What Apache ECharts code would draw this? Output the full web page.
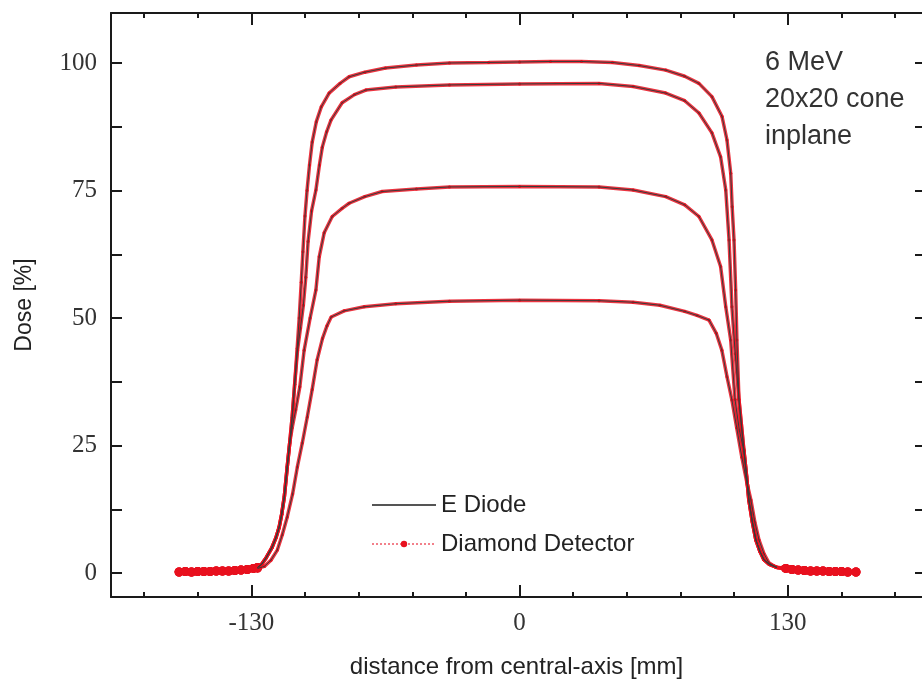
<!DOCTYPE html>
<html>
<head>
<meta charset="utf-8">
<script src="https://cdn.jsdelivr.net/npm/echarts@6/dist/echarts.min.js"></script>
<style>
  html, body { margin: 0; padding: 0; background: #fff; }
  #chart { width: 922px; height: 695px; }
</style>
</head>
<body>
<div id="chart"></div>
<script>
// tick positions
const xMajor = [-130, 0, 130];
const xMinor = [-182, -156, -104, -78, -52, -26, 26, 52, 78, 104, 156, 182];
const yMajor = [0, 25, 50, 75, 100];
const yMinor = [12.5, 37.5, 62.5, 87.5];

// flat low-dose tails (only diamond shows them)
const leftTail = [[-165,0.2],[-162,0.3],[-159,0.2],[-156,0.3],[-153,0.3],[-150,0.3],[-147,0.4],[-144,0.4],[-141,0.4],[-138,0.5],[-135,0.6],[-132,0.7],[-129,0.9]];
const rightTail = [[129,0.9],[132,0.7],[135,0.6],[138,0.5],[141,0.4],[144,0.4],[147,0.4],[150,0.3],[153,0.3],[156,0.3],[159,0.2],[163,0.2]];

// the four profiles, [distance mm, dose %]
const profile100 = [[-127,1.1],[-125,1.7],[-122.8,3],[-120,5],[-118,7],[-116.5,9],[-115.3,11.5],[-114,15],[-112.6,20.8],[-111.4,25.5],[-110.2,30.6],[-109,37],[-107.8,44],[-106.8,50],[-105.8,57],[-105,63],[-104,70],[-103,75],[-101.8,80],[-100.5,84.5],[-98.5,88.5],[-96.1,91.4],[-92.3,94.1],[-87,96],[-82.6,97.3],[-75,98.2],[-65,99],[-50,99.6],[-34,100],[-15,100.1],[0,100.2],[15,100.3],[30,100.3],[45,100.1],[58,99.5],[70.8,98.6],[80,97.4],[86.9,96],[93.2,93.4],[98.1,89.5],[100.5,84.9],[102.3,78.4],[103,71.8],[103.9,65.3],[104.7,55.5],[105.3,45.7],[106.3,34],[107.5,29],[108.7,24],[110,19],[111.1,14.3],[112.8,10],[114.5,6.5],[116.5,4.2],[118.4,2.6],[121,1.7],[124.7,1.1]];
const profile96 = [[-127,1.1],[-125,1.7],[-122.8,3],[-120,5],[-118,7],[-116.5,9],[-115.3,11.5],[-114,15],[-112.6,20.8],[-111.4,25.5],[-110.2,30.6],[-109,37],[-107.6,43.7],[-106.2,48],[-104.8,52.5],[-103.6,58],[-102.5,65],[-100.8,71],[-98.7,75.1],[-97,80],[-95.6,83.5],[-93.5,86.5],[-91.4,88.8],[-86,92.2],[-80,93.8],[-74.5,94.7],[-60,95.3],[-34,95.7],[0,95.9],[38.5,96],[55,95.4],[70.8,94.1],[80,92.6],[86.9,90.2],[93.2,86.3],[97.4,81.6],[99.9,75.1],[101.5,65.3],[102.9,52.2],[104.5,43],[106.3,34],[107.5,29],[108.7,24],[110,19],[111.1,14.3],[112.8,10],[114.5,6.5],[116.5,4.2],[118.4,2.6],[121,1.7],[124.7,1.1]];
const profile75 = [[-127,1.1],[-125,1.7],[-122.8,3],[-120,5],[-118,7],[-116.5,9],[-115.3,11.5],[-114,15],[-112.6,20.8],[-111.4,25.5],[-110.2,28.5],[-108.5,32],[-106.5,36.5],[-104.4,43.7],[-101.5,50],[-98.7,55.5],[-97.1,62],[-94.7,66.7],[-90.8,69.9],[-86,71.5],[-82.6,72.5],[-75,73.8],[-66.6,74.8],[-50,75.3],[-34,75.7],[0,75.8],[38.5,75.7],[55,75.1],[70.8,73.8],[80,72.2],[86.9,69.9],[93.2,65.3],[97.4,60.1],[99.9,52.2],[102.3,45.7],[104.4,34],[106.5,28],[108.7,24],[110,19],[111.1,14.3],[112.8,10],[114.5,6.5],[116.5,4.2],[118.4,2.6],[121,1.7],[124.7,1.1]];
const profile53 = [[-127,0.9],[-123.7,1.3],[-120.5,2.5],[-117.4,4.5],[-115,7.5],[-112.6,11],[-110,15.5],[-107.7,20.8],[-105.3,25.5],[-102.9,30.6],[-100.5,36],[-98.1,41.8],[-95.5,46],[-93.3,48.5],[-91.3,50.2],[-85,51.4],[-75.3,52.2],[-60,52.8],[-34,53.3],[0,53.5],[38.5,53.4],[55,53.1],[68,52.5],[80,51.3],[86,50.5],[91.8,49.6],[95.3,47],[98,43.7],[100.5,38.5],[102.9,33.9],[105.2,28.5],[107.7,22.7],[110,18],[112.1,14.3],[114,10],[116,6.5],[118.4,3.8],[120.8,2],[124,1.2]];

const profiles = [profile100, profile96, profile75, profile53];

const RED = '#e8101e';
const DARK = '#3a3a3a';
const AXIS = '#1a1a1a';

const chart = echarts.init(document.getElementById('chart'));

const commonX = { type: 'value', min: -198, max: 195, gridIndex: 0, splitLine: { show: false } };
const commonY = { type: 'value', min: -4.7, max: 109.8, gridIndex: 0, splitLine: { show: false } };

const diamondSeries = profiles.map(p => ({
  name: 'Diamond Detector',
  type: 'line',
  data: [...leftTail, ...p, ...rightTail],
  symbol: 'circle',
  symbolSize: v => (Math.abs(v[0]) > 126 ? 9 : 3),
  showAllSymbol: true,
  itemStyle: { color: RED },
  lineStyle: { color: RED, width: 3.5, opacity: 0.85 },
  z: 2,
  silent: true
}));

const diodeSeries = profiles.map(p => ({
  name: 'E Diode',
  type: 'line',
  data: p,
  symbol: 'none',
  lineStyle: { color: DARK, width: 1 },
  itemStyle: { color: DARK },
  z: 3,
  silent: true
}));

const axisLine = { onZero: false, lineStyle: { color: AXIS, width: 2 } };

const option = {
  animation: false,
  backgroundColor: '#fff',
  grid: { left: 111, top: 13, right: -1, bottom: 98 },
  xAxis: [
    {
      ...commonX, position: 'bottom',
      name: 'distance from central-axis [mm]', nameLocation: 'middle', nameGap: 58,
      nameTextStyle: { fontFamily: 'Liberation Sans', fontSize: 24, color: '#222' },
      axisLine: axisLine,
      axisTick: { inside: true, length: 12, customValues: xMajor, lineStyle: { color: AXIS, width: 2 } },
      axisLabel: { customValues: xMajor, margin: 14, fontFamily: 'Liberation Serif', fontSize: 25, color: '#333' }
    },
    {
      ...commonX, position: 'bottom',
      axisLine: { show: false, onZero: false },
      axisTick: { inside: true, length: 5, customValues: xMinor, lineStyle: { color: AXIS, width: 2 } },
      axisLabel: { show: false }
    },
    {
      ...commonX, position: 'top',
      axisLine: axisLine,
      axisTick: { inside: true, length: 12, customValues: xMajor, lineStyle: { color: AXIS, width: 2 } },
      axisLabel: { show: false }
    },
    {
      ...commonX, position: 'top',
      axisLine: { show: false, onZero: false },
      axisTick: { inside: true, length: 5, customValues: xMinor, lineStyle: { color: AXIS, width: 2 } },
      axisLabel: { show: false }
    }
  ],
  yAxis: [
    {
      ...commonY, position: 'left',
      name: 'Dose [%]', nameLocation: 'middle', nameGap: 75,
      nameTextStyle: { fontFamily: 'Liberation Sans', fontSize: 23, color: '#222' },
      axisLine: axisLine,
      axisTick: { inside: true, length: 11, customValues: yMajor.concat(yMinor), lineStyle: { color: AXIS, width: 2 } },
      axisLabel: { customValues: yMajor, margin: 14, fontFamily: 'Liberation Serif', fontSize: 25, color: '#333' }
    },
    {
      ...commonY, position: 'right',
      axisLine: { show: false, onZero: false },
      axisTick: { inside: true, length: 7, customValues: yMajor.concat(yMinor), lineStyle: { color: AXIS, width: 2 } },
      axisLabel: { show: false }
    }
  ],
  legend: {
    orient: 'vertical',
    left: 366,
    top: 488,
    itemWidth: 64,
    itemHeight: 8,
    itemGap: 15,
    textStyle: { fontFamily: 'Liberation Sans', fontSize: 24, color: '#222' },
    data: [
      { name: 'E Diode', itemStyle: { opacity: 0 }, lineStyle: { color: '#555', width: 2 } },
      { name: 'Diamond Detector', itemStyle: { color: RED }, lineStyle: { color: '#f2808a', width: 2, type: 'dotted', opacity: 1 } }
    ]
  },
  graphic: [
    {
      type: 'text', left: 765, top: 44,
      style: { text: '6 MeV\n20x20 cone\ninplane', font: '27px "Liberation Sans"', fill: '#333', lineHeight: 37 }
    }
  ],
  series: [...diamondSeries, ...diodeSeries]
};

chart.setOption(option);
</script>
</body>
</html>
